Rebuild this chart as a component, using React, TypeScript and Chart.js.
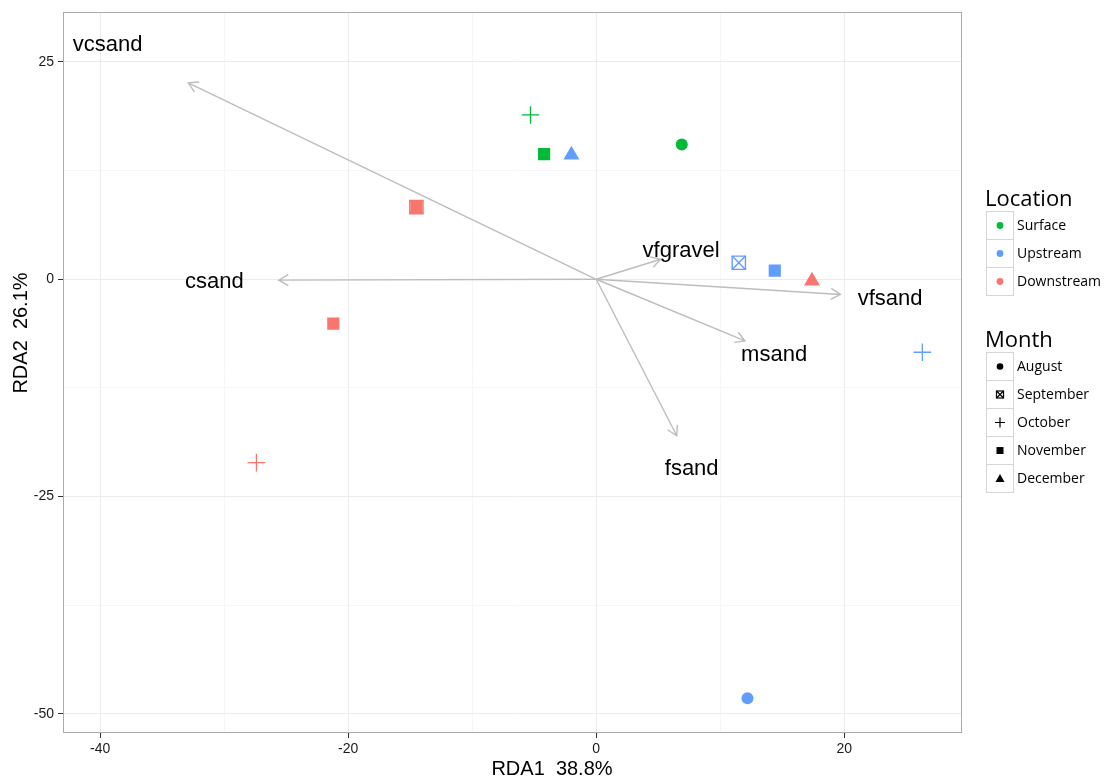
import React, { useEffect, useRef } from 'react';
import { Chart, registerables } from 'chart.js';

Chart.register(...registerables);

// Groups
const locations = ['Surface', 'Upstream', 'Downstream'];
const locationColors = ['#00BA38', '#619CFF', '#F8766D'];
const months = ['August', 'September', 'October', 'November', 'December'];

// Site scores on the first two RDA axes
const sampleLocation = [
  'Surface', 'Surface', 'Surface',
  'Upstream', 'Upstream', 'Upstream', 'Upstream', 'Upstream',
  'Downstream', 'Downstream', 'Downstream', 'Downstream', 'Downstream',
];
const sampleMonth = [
  'August', 'October', 'November',
  'August', 'September', 'October', 'November', 'December',
  'September', 'October', 'November', 'November', 'December',
];
const siteRda1 = [6.9, -5.3, -4.2, 12.2, 11.5, 26.3, 14.4, -2.0, -14.5, -27.4, -14.5, -21.2, 17.4];
const siteRda2 = [15.5, 18.9, 14.4, -48.2, 1.9, -8.4, 1.0, 14.3, 8.3, -21.1, 8.3, -5.1, -0.2];

// Environmental variable arrows and their labels
const variables = ['vcsand', 'csand', 'vfgravel', 'vfsand', 'msand', 'fsand'];
const arrowRda1 = [-32.9, -25.6, 5.2, 19.7, 12.0, 6.5];
const arrowRda2 = [22.6, -0.1, 2.3, -1.75, -7.1, -18.0];
const labelRda1 = [-39.4, -30.8, 6.85, 23.7, 14.35, 7.7];
const labelRda2 = [27.0, -0.3, 3.25, -2.3, -8.75, -21.8];

// Axes
const xTickValues = [-40, -30, -20, -10, 0, 10, 20];
const xTickLabels = ['-40', '', '-20', '', '0', '', '20'];
const yTickValues = [25, 12.5, 0, -12.5, -25, -37.5, -50];
const yTickLabels = ['25', '', '0', '', '-25', '', '-50'];
const xTitle = 'RDA1  38.8%';
const yTitle = 'RDA2  26.1%';

const TRANSPARENT = 'rgba(0,0,0,0)';

function buildDatasets() {
  const sets: any[] = [];
  locations.forEach((loc, li) => {
    const color = locationColors[li];
    months.forEach((m) => {
      const data = siteRda1
        .map((x, i) => ({ x, y: siteRda2[i], loc: sampleLocation[i], month: sampleMonth[i] }))
        .filter((p) => p.loc === loc && p.month === m)
        .map((p) => ({ x: p.x, y: p.y }));
      if (!data.length) return;
      const base = { label: `${loc} ${m}`, data, pointHoverRadius: 0 };
      if (m === 'August') {
        sets.push({ ...base, pointStyle: 'circle', pointRadius: 6, backgroundColor: color, borderColor: color, borderWidth: 0 });
      } else if (m === 'September') {
        sets.push({ ...base, pointStyle: 'rect', pointRadius: 9.4, backgroundColor: TRANSPARENT, borderColor: color, borderWidth: 1.4 });
        sets.push({ ...base, pointStyle: 'crossRot', pointRadius: 9.4, backgroundColor: TRANSPARENT, borderColor: color, borderWidth: 1.4 });
      } else if (m === 'October') {
        sets.push({ ...base, pointStyle: 'cross', pointRadius: 8.8, backgroundColor: TRANSPARENT, borderColor: color, borderWidth: 1.3 });
      } else if (m === 'November') {
        sets.push({ ...base, pointStyle: 'rect', pointRadius: 8.6, backgroundColor: color, borderColor: color, borderWidth: 0 });
      } else {
        sets.push({ ...base, pointStyle: 'triangle', pointRadius: 9.2, backgroundColor: color, borderColor: color, borderWidth: 0 });
      }
    });
  });
  return sets;
}

function drawArrowLine(ctx: CanvasRenderingContext2D, x0: number, y0: number, x1: number, y1: number) {
  const ang = Math.atan2(y1 - y0, x1 - x0);
  const head = 11;
  const spread = Math.PI / 6;
  ctx.beginPath();
  ctx.moveTo(x0, y0);
  ctx.lineTo(x1, y1);
  ctx.moveTo(x1 - head * Math.cos(ang - spread), y1 - head * Math.sin(ang - spread));
  ctx.lineTo(x1, y1);
  ctx.lineTo(x1 - head * Math.cos(ang + spread), y1 - head * Math.sin(ang + spread));
  ctx.stroke();
}

function drawKeyGlyph(ctx: CanvasRenderingContext2D, month: string, cx: number, cy: number) {
  ctx.fillStyle = '#000';
  ctx.strokeStyle = '#000';
  ctx.lineWidth = 1.2;
  if (month === 'August') {
    ctx.beginPath();
    ctx.arc(cx, cy, 3.3, 0, Math.PI * 2);
    ctx.fill();
  } else if (month === 'September') {
    ctx.strokeRect(cx - 3.5, cy - 3.5, 7, 7);
    ctx.beginPath();
    ctx.moveTo(cx - 3.5, cy - 3.5);
    ctx.lineTo(cx + 3.5, cy + 3.5);
    ctx.moveTo(cx + 3.5, cy - 3.5);
    ctx.lineTo(cx - 3.5, cy + 3.5);
    ctx.stroke();
  } else if (month === 'October') {
    ctx.beginPath();
    ctx.moveTo(cx - 5, cy);
    ctx.lineTo(cx + 5, cy);
    ctx.moveTo(cx, cy - 5);
    ctx.lineTo(cx, cy + 5);
    ctx.stroke();
  } else if (month === 'November') {
    ctx.fillRect(cx - 3.5, cy - 3.5, 7, 7);
  } else {
    ctx.beginPath();
    ctx.moveTo(cx, cy - 4.5);
    ctx.lineTo(cx + 4.5, cy + 3.5);
    ctx.lineTo(cx - 4.5, cy + 3.5);
    ctx.closePath();
    ctx.fill();
  }
}

const biplotPlugin = {
  id: 'biplot',
  beforeDatasetsDraw(chart: any) {
    const { ctx, scales } = chart;
    const xs = scales.x;
    const ys = scales.y;
    const ox = xs.getPixelForValue(0);
    const oy = ys.getPixelForValue(0);
    ctx.save();
    ctx.strokeStyle = '#bdbdbd';
    ctx.lineWidth = 1.4;
    ctx.lineJoin = 'miter';
    variables.forEach((_, i) => {
      drawArrowLine(ctx, ox, oy, xs.getPixelForValue(arrowRda1[i]), ys.getPixelForValue(arrowRda2[i]));
    });
    ctx.fillStyle = '#000';
    ctx.font = '22px "Liberation Sans", Arial, sans-serif';
    ctx.textAlign = 'center';
    ctx.textBaseline = 'middle';
    variables.forEach((name, i) => {
      ctx.fillText(name, xs.getPixelForValue(labelRda1[i]), ys.getPixelForValue(labelRda2[i]));
    });
    ctx.restore();
  },
  afterDraw(chart: any) {
    const { ctx, chartArea } = chart;
    ctx.save();
    // panel border
    ctx.strokeStyle = '#ababab';
    ctx.lineWidth = 1;
    ctx.strokeRect(
      Math.round(chartArea.left) + 0.5,
      Math.round(chartArea.top) + 0.5,
      Math.round(chartArea.right - chartArea.left) - 1,
      Math.round(chartArea.bottom - chartArea.top) - 1
    );

    // axis titles
    ctx.fillStyle = '#000';
    ctx.font = '20px "Liberation Sans", Arial, sans-serif';
    ctx.textAlign = 'center';
    ctx.textBaseline = 'middle';
    ctx.fillText(xTitle, 552, 769);
    ctx.save();
    ctx.translate(21, 333);
    ctx.rotate(-Math.PI / 2);
    ctx.fillText(yTitle, 0, 0);
    ctx.restore();

    // legends
    const keyX = 986;
    const keyW = 27;
    const rowH = 28;
    const textX = 1017;
    const drawKeyBox = (top: number) => {
      ctx.fillStyle = '#fff';
      ctx.fillRect(keyX, top, keyW, rowH);
      ctx.strokeStyle = '#d6d6d6';
      ctx.lineWidth = 1;
      ctx.strokeRect(keyX + 0.5, top + 0.5, keyW, rowH);
    };

    ctx.textAlign = 'left';
    ctx.textBaseline = 'alphabetic';
    ctx.fillStyle = '#000';
    ctx.font = '22px "Open Sans", sans-serif';
    ctx.fillText('Location', 985, 206);
    locations.forEach((loc, i) => {
      const top = 211 + i * rowH;
      drawKeyBox(top);
      ctx.fillStyle = locationColors[i];
      ctx.beginPath();
      ctx.arc(keyX + keyW / 2 + 0.5, top + rowH / 2 + 0.5, 3.4, 0, Math.PI * 2);
      ctx.fill();
      ctx.fillStyle = '#000';
      ctx.font = '14px "Open Sans", sans-serif';
      ctx.textBaseline = 'middle';
      ctx.fillText(loc, textX, top + rowH / 2 + 1);
      ctx.textBaseline = 'alphabetic';
    });

    ctx.font = '22px "Open Sans", sans-serif';
    ctx.fillStyle = '#000';
    ctx.fillText('Month', 985, 347);
    months.forEach((m, i) => {
      const top = 352 + i * rowH;
      drawKeyBox(top);
      drawKeyGlyph(ctx, m, keyX + keyW / 2 + 0.5, top + rowH / 2 + 0.5);
      ctx.fillStyle = '#000';
      ctx.font = '14px "Open Sans", sans-serif';
      ctx.textBaseline = 'middle';
      ctx.fillText(m, textX, top + rowH / 2 + 1);
      ctx.textBaseline = 'alphabetic';
    });
    ctx.restore();
  },
};

const isMajorX = (v: number) => xTickLabels[xTickValues.indexOf(v)] !== '';
const isMajorY = (v: number) => yTickLabels[yTickValues.indexOf(v)] !== '';

export default function App() {
  const canvasRef = useRef<HTMLCanvasElement | null>(null);

  useEffect(() => {
    if (!canvasRef.current) return;
    const chart = new Chart(canvasRef.current, {
      type: 'scatter',
      data: { datasets: buildDatasets() },
      plugins: [biplotPlugin],
      options: {
        responsive: false,
        animation: false,
        devicePixelRatio: 1,
        events: [],
        layout: { padding: { left: 0, top: 10, right: 144, bottom: 0 } },
        plugins: { legend: { display: false }, tooltip: { enabled: false }, title: { display: false } },
        scales: {
          x: {
            type: 'linear',
            min: -43,
            max: 29.5,
            afterFit: (scale: any) => { scale.height = 47; },
            afterBuildTicks: (scale: any) => { scale.ticks = xTickValues.map((value) => ({ value })); },
            border: { display: false },
            grid: {
              color: (c: any) => (isMajorX(c.tick?.value) ? '#ebebeb' : '#f6f6f6'),
              tickColor: (c: any) => (isMajorX(c.tick?.value) ? '#333' : TRANSPARENT),
              tickLength: 5,
              lineWidth: 1,
            },
            ticks: {
              autoSkip: false,
              maxRotation: 0,
              padding: 3,
              color: '#1a1a1a',
              font: { family: '"Liberation Sans", Arial, sans-serif', size: 14 },
              callback: (v: any) => xTickLabels[xTickValues.indexOf(Number(v))] ?? '',
            },
          },
          y: {
            type: 'linear',
            min: -52.2,
            max: 30.7,
            afterFit: (scale: any) => { scale.width = 63; },
            afterBuildTicks: (scale: any) => { scale.ticks = yTickValues.map((value) => ({ value })); },
            border: { display: false },
            grid: {
              color: (c: any) => (isMajorY(c.tick?.value) ? '#ebebeb' : '#f6f6f6'),
              tickColor: (c: any) => (isMajorY(c.tick?.value) ? '#333' : TRANSPARENT),
              tickLength: 5,
              lineWidth: 1,
            },
            ticks: {
              autoSkip: false,
              padding: 4,
              color: '#1a1a1a',
              font: { family: '"Liberation Sans", Arial, sans-serif', size: 14 },
              callback: (v: any) => yTickLabels[yTickValues.indexOf(Number(v))] ?? '',
            },
          },
        },
      },
    } as any);
    return () => chart.destroy();
  }, []);

  return (
    <canvas
      ref={canvasRef}
      width={1106}
      height={780}
      style={{ position: 'absolute', left: 0, top: 0, width: 1106, height: 780 }}
    />
  );
}
